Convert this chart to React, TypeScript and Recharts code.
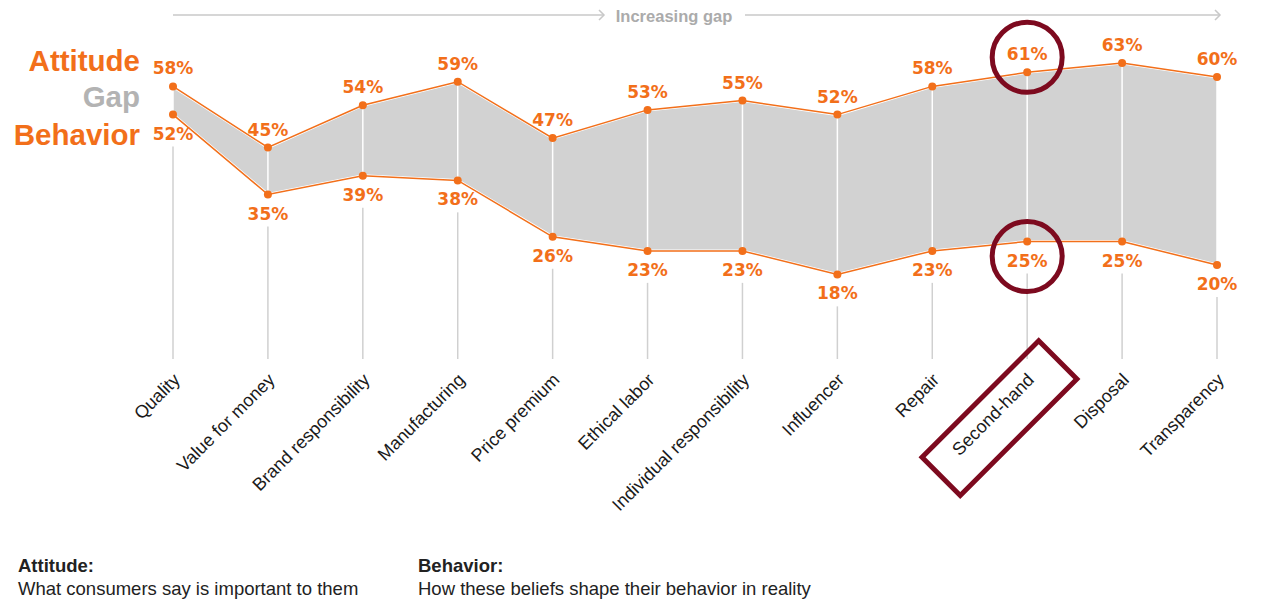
import { Area, ComposedChart, LabelList, Line, ReferenceLine, XAxis, YAxis } from "recharts";

const categories = [
	"Quality",
	"Value for money",
	"Brand responsibility",
	"Manufacturing",
	"Price premium",
	"Ethical labor",
	"Individual responsibility",
	"Influencer",
	"Repair",
	"Second-hand",
	"Disposal",
	"Transparency",
];
const attitude = [58, 45, 54, 59, 47, 53, 55, 52, 58, 61, 63, 60];
const behavior = [52, 35, 39, 38, 26, 23, 23, 18, 23, 25, 25, 20];
const highlighted = "Second-hand";

const ORANGE = "#f26f1a";
const MAROON = "#7d0a1f";
const FONT = "'Liberation Sans', Arial, sans-serif";
const NUM_FONT = "'DejaVu Sans', Verdana, sans-serif";

const data = categories.map((name, i) => ({
	name,
	attitude: attitude[i],
	behavior: behavior[i],
	gap: [behavior[i], attitude[i]],
}));

const Tick = (props: any) => {
	const { x, y, payload } = props;
	const hit = payload.value === highlighted;
	return (
		<g transform={`translate(${x + 8},${y + 14}) rotate(-45)`}>
			<text textAnchor="end" fontFamily={FONT} fontSize={18} fill="#1a1a1a">
				{payload.value}
			</text>
			{hit && (
				<rect x={-134} y={-26} width={165} height={54} fill="none" stroke={MAROON} strokeWidth={5} />
			)}
		</g>
	);
};

const labelFor = (above: boolean) => (props: any) => {
	const { x, y, value, index } = props;
	const hit = categories[index] === highlighted;
	const ty = above ? y - 12 : y + 25;
	return (
		<g>
			<text x={x} y={ty} textAnchor="middle" fontFamily={NUM_FONT} fontWeight="bold" fontSize={17} fill={ORANGE}>
				{value}%
			</text>
			{hit && (
				<circle cx={x} cy={above ? y - 15 : y + 15} r={35} fill="none" stroke={MAROON} strokeWidth={5} />
			)}
		</g>
	);
};

export default function App() {
	return (
		<div style={{ position: "relative", width: 1256, height: 593, background: "#fff" }}>
			<ComposedChart width={1256} height={593} data={data} margin={{ top: 22, right: 47, left: 165, bottom: 0 }}>
				<XAxis
					dataKey="name"
					scale="point"
					height={242}
					axisLine={false}
					tickLine={false}
					interval={0}
					tick={<Tick />}
				/>
				<YAxis hide domain={[0, 70]} />
				<Area
					dataKey="gap"
					type="linear"
					fill="#d2d2d2"
					fillOpacity={1}
					stroke="#fff"
					strokeWidth={3}
					isAnimationActive={false}
				/>
				{data.map((d) => (
					<ReferenceLine
						key={`w-${d.name}`}
						segment={[
							{ x: d.name, y: d.behavior },
							{ x: d.name, y: d.attitude },
						]}
						stroke="#fff"
						strokeWidth={1.5}
					/>
				))}
				{data.map((d) => (
					<ReferenceLine
						key={`g-${d.name}`}
						segment={[
							{ x: d.name, y: 0 },
							{ x: d.name, y: d.behavior - 6.8 },
						]}
						stroke="#d0d0d0"
						strokeWidth={1.5}
					/>
				))}
				<Line
					dataKey="attitude"
					type="linear"
					stroke={ORANGE}
					strokeWidth={1.5}
					dot={{ r: 4, fill: ORANGE, stroke: "none" }}
					isAnimationActive={false}
				>
					<LabelList dataKey="attitude" content={labelFor(true)} />
				</Line>
				<Line
					dataKey="behavior"
					type="linear"
					stroke={ORANGE}
					strokeWidth={1.5}
					dot={{ r: 4, fill: ORANGE, stroke: "none" }}
					isAnimationActive={false}
				>
					<LabelList dataKey="behavior" content={labelFor(false)} />
				</Line>
			</ComposedChart>
			<svg
				width={1256}
				height={593}
				style={{ position: "absolute", left: 0, top: 0, pointerEvents: "none", overflow: "visible" }}
			>
				<g stroke="#c8c8c8" strokeWidth={1.5} fill="none">
					<line x1={165} y1={7} x2={596} y2={7} />
					<polyline points="591,2 596,7 591,12" />
					<line x1={737} y1={7} x2={1212} y2={7} />
					<polyline points="1207,2 1212,7 1207,12" />
				</g>
				<text x={666} y={14} textAnchor="middle" fontFamily={FONT} fontWeight="bold" fontSize={16.5} fill="#ababab">
					Increasing gap
				</text>
				<g fontFamily={FONT} fontWeight="bold" fontSize={29.5} textAnchor="end">
					<text x={132} y={63} fill={ORANGE}>Attitude</text>
					<text x={132} y={99} fill="#b3b3b3">Gap</text>
					<text x={132} y={137} fill={ORANGE}>Behavior</text>
				</g>
				<g fontFamily={FONT} fontSize={18.5} fill="#222">
					<text x={10} y={564} fontWeight="bold">Attitude:</text>
					<text x={10} y={587}>What consumers say is important to them</text>
					<text x={410} y={564} fontWeight="bold">Behavior:</text>
					<text x={410} y={587}>How these beliefs shape their behavior in reality</text>
				</g>
			</svg>
		</div>
	);
}
